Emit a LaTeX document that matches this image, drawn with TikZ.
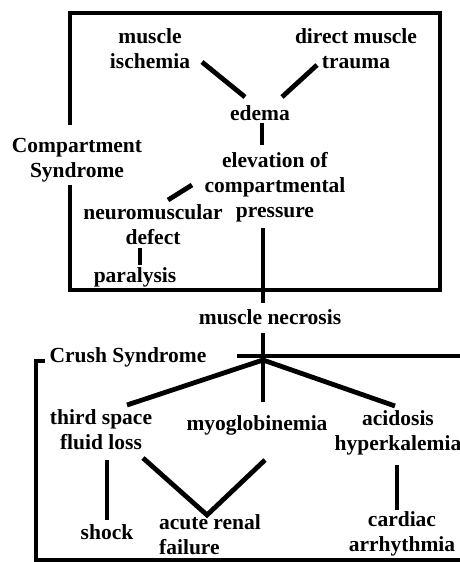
\documentclass[tikz,border=0pt]{standalone}
\usepackage{fontspec}
\setmainfont{Liberation Serif}
\begin{document}
\begin{tikzpicture}[
  x=1pt, y=-1pt,
  lbl/.style={font=\bfseries\fontsize{21.5}{25}\selectfont, align=center, inner sep=1pt},
  link/.style={line width=4.8pt},
  frame/.style={line width=4pt}
]
  \useasboundingbox (0,0) rectangle (460,562);
  % Compartment syndrome
  \node[lbl] (isch) at (150,49) {muscle\\ischemia};
  \node[lbl] (trauma) at (356,49) {direct muscle\\trauma};
  \node[lbl] (edema) at (260,113) {edema};
  \node[lbl] (elev) at (275,187) {elevation of\\compartmental\\pressure};
  \node[lbl] (neuro) at (153,225) {neuromuscular\\defect};
  \node[lbl] (para) at (135,277) {paralysis};
  \node[lbl] (comp) at (77,160) {Compartment\\Syndrome};
  \node[lbl] (necro) at (270,317) {muscle necrosis};
  % Crush syndrome
  \node[lbl] (crush) at (128,357) {Crush Syndrome};
  \node[lbl] (fluid) at (101,430) {third space\\fluid loss};
  \node[lbl] (myo) at (257,425) {myoglobinemia};
  \node[lbl] (acid) at (398,433) {acidosis\\hyperkalemia};
  \node[lbl] (shock) at (107,532) {shock};
  \node[lbl, align=left] (renal) at (210,535) {acute renal\\failure};
  \node[lbl] (cardiac) at (402,534) {cardiac\\arrhythmia};
  % Frames
  \draw[frame] (70,125) -- (70,13) -- (440,13) -- (440,290) -- (70,290) -- (70,185);
  \draw[frame] (45,361) -- (36,361) -- (36,560) -- (460,560);
  \draw[frame] (237,356) -- (460,356);
  % Links
  \coordinate (hub) at ([shift={(-7,43)}]necro.center);
  \coordinate (renalv) at ([shift={(-3,-20)}]renal.center);
  \draw[link] ([shift={(52,13)}]isch.center) -- ([shift={(-15,-16)}]edema.center);
  \draw[link] ([shift={(-39,16)}]trauma.center) -- ([shift={(22,-16)}]edema.center);
  \draw[link] ([shift={(2,10)}]edema.center) -- ([shift={(-13,-42)}]elev.center);
  \draw[link] ([shift={(-83,-2)}]elev.center) -- ([shift={(15,-25)}]neuro.center);
  \draw[link] ([shift={(-13,23)}]neuro.center) -- ([shift={(5,-12)}]para.center);
  \draw[link] ([shift={(-12,41)}]elev.center) -- ([shift={(-7,-14)}]necro.center);
  \draw[link] ([shift={(-7,16)}]necro.center) -- ([shift={(6,-23)}]myo.center);
  \draw[link] ([shift={(26,-25)}]fluid.center) -- (hub) -- ([shift={(-3,-27)}]acid.center);
  \draw[link] ([shift={(6,30)}]fluid.center) -- ([shift={(0,-12)}]shock.center);
  \draw[link] ([shift={(42,28)}]fluid.center) -- (renalv) -- ([shift={(8,35)}]myo.center);
  \draw[link] ([shift={(-1,32)}]acid.center) -- ([shift={(-5,-24)}]cardiac.center);
\end{tikzpicture}
\end{document}
